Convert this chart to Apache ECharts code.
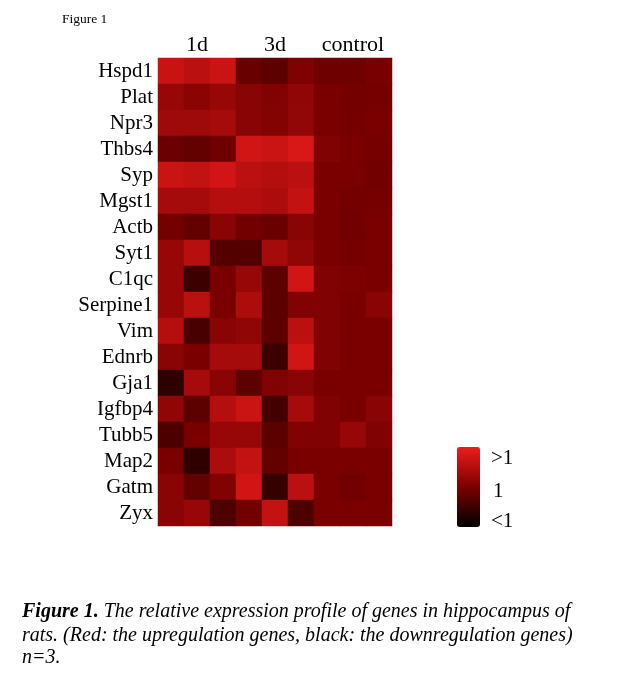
<!DOCTYPE html>
<html>
<head>
<meta charset="utf-8">
<script src="https://cdn.jsdelivr.net/npm/echarts@6/dist/echarts.min.js"></script>
<style>
html,body{margin:0;padding:0;background:#fff;}
#main{width:628px;height:683px;}
</style>
</head>
<body>
<div id="main"></div>
<script>
// Columns (3 replicates per group) and genes
const groups = ['1d','1d','1d','3d','3d','3d','control','control','control'];
const genes = ['Hspd1','Plat','Npr3','Thbs4','Syp','Mgst1','Actb','Syt1','C1qc','Serpine1','Vim','Ednrb','Gja1','Igfbp4','Tubb5','Map2','Gatm','Zyx'];
// Relative expression (1 = unchanged), one array per gene
const Hspd1    = [1.68, 1.56, 1.69, 0.86, 0.78, 1.05, 0.90, 0.90, 0.98];
const Plat     = [1.25, 1.14, 1.25, 1.13, 1.06, 1.19, 1.00, 0.95, 0.97];
const Npr3     = [1.31, 1.31, 1.38, 1.13, 1.08, 1.20, 1.00, 0.97, 1.00];
const Thbs4    = [0.88, 0.81, 0.91, 1.75, 1.69, 1.81, 1.06, 1.00, 0.97];
const Syp      = [1.69, 1.63, 1.75, 1.56, 1.50, 1.56, 1.00, 1.00, 0.94];
const Mgst1    = [1.38, 1.38, 1.50, 1.50, 1.44, 1.63, 1.00, 0.95, 0.97];
const Actb     = [0.95, 0.81, 1.13, 0.94, 0.88, 1.13, 1.00, 0.94, 1.00];
const Syt1     = [1.25, 1.53, 0.69, 0.69, 1.38, 1.19, 1.00, 0.97, 1.00];
const C1qc     = [1.25, 0.50, 1.00, 1.25, 0.75, 1.75, 1.06, 1.03, 1.00];
const Serpine1 = [1.25, 1.56, 1.00, 1.44, 0.75, 1.06, 1.06, 1.00, 1.13];
const Vim      = [1.50, 0.59, 1.13, 1.19, 0.75, 1.56, 1.06, 1.00, 1.00];
const Ednrb    = [1.13, 1.00, 1.38, 1.38, 0.50, 1.75, 1.06, 1.00, 1.00];
const Gja1     = [0.38, 1.38, 1.13, 0.75, 1.06, 1.13, 1.00, 1.00, 1.00];
const Igfbp4   = [1.19, 0.75, 1.50, 1.69, 0.56, 1.38, 1.06, 1.00, 1.13];
const Tubb5    = [0.63, 1.00, 1.25, 1.25, 0.75, 1.06, 1.06, 1.25, 1.06];
const Map2     = [1.00, 0.38, 1.44, 1.63, 0.81, 1.00, 1.00, 1.00, 1.00];
const Gatm     = [1.13, 0.81, 1.06, 1.75, 0.44, 1.56, 1.00, 0.94, 1.00];
const Zyx      = [1.13, 1.25, 0.63, 0.94, 1.63, 0.63, 1.00, 1.00, 1.00];
const legendLabels = ['>1', '1', '<1'];

const rows = [Hspd1, Plat, Npr3, Thbs4, Syp, Mgst1, Actb, Syt1, C1qc, Serpine1, Vim, Ednrb, Gja1, Igfbp4, Tubb5, Map2, Gatm, Zyx];
const data = [];
rows.forEach((r, yi) => r.forEach((v, xi) => data.push([xi, yi, v])));

const serif = '"Liberation Serif", "Times New Roman", serif';
const chart = echarts.init(document.getElementById('main'), null, {renderer: 'canvas'});
chart.setOption({
  backgroundColor: '#fff',
  animation: false,
  grid: {left: 158, top: 58, width: 234, height: 468},
  xAxis: {
    type: 'category',
    position: 'top',
    data: groups.map((g, i) => i),
    axisLine: {show: false}, axisTick: {show: false}, splitLine: {show: false},
    axisLabel: {
      interval: (i) => i % 3 === 1,
      formatter: (v, i) => groups[i],
      color: '#000', fontFamily: serif, fontSize: 22, margin: 2
    }
  },
  yAxis: {
    type: 'category',
    inverse: true,
    data: genes,
    axisLine: {show: false}, axisTick: {show: false}, splitLine: {show: false},
    axisLabel: {color: '#000', fontFamily: serif, fontSize: 21, margin: 5, interval: 0}
  },
  visualMap: {
    type: 'continuous',
    min: 0, max: 2,
    calculable: false,
    orient: 'vertical',
    left: 457, top: 447,
    itemWidth: 23, itemHeight: 80,
    padding: 0,
    text: ['', ''],
    showLabel: false,
    inRange: {color: ['#000000', '#7a0000', '#ee1c1c']}
  },
  series: [{
    type: 'heatmap',
    data: data,
    itemStyle: {borderWidth: 0},
    emphasis: {disabled: true}
  }],
  graphic: [
    {type: 'text', left: 62, top: 12, style: {text: 'Figure 1', font: '13.5px ' + serif, fill: '#000'}},
    {type: 'text', left: 491, top: 448, style: {text: legendLabels[0], font: '21px ' + serif, fill: '#000'}},
    {type: 'text', left: 493, top: 481, style: {text: legendLabels[1], font: '21px ' + serif, fill: '#000'}},
    {type: 'text', left: 491, top: 511, style: {text: legendLabels[2], font: '21px ' + serif, fill: '#000'}},
    {type: 'text', left: 22, top: 602, style: {
      rich: {
        b: {font: 'italic bold 20px ' + serif, fill: '#000'},
        n: {font: 'italic 20px ' + serif, fill: '#000'}
      },
      text: '{b|Figure 1.}{n| The relative expression profile of genes in hippocampus of}'
    }},
    {type: 'text', left: 22, top: 626, style: {text: 'rats. (Red: the upregulation genes, black: the downregulation genes)', font: 'italic 20px ' + serif, fill: '#000'}},
    {type: 'text', left: 22, top: 648, style: {text: 'n=3.', font: 'italic 20px ' + serif, fill: '#000'}}
  ]
});
</script>
</body>
</html>
